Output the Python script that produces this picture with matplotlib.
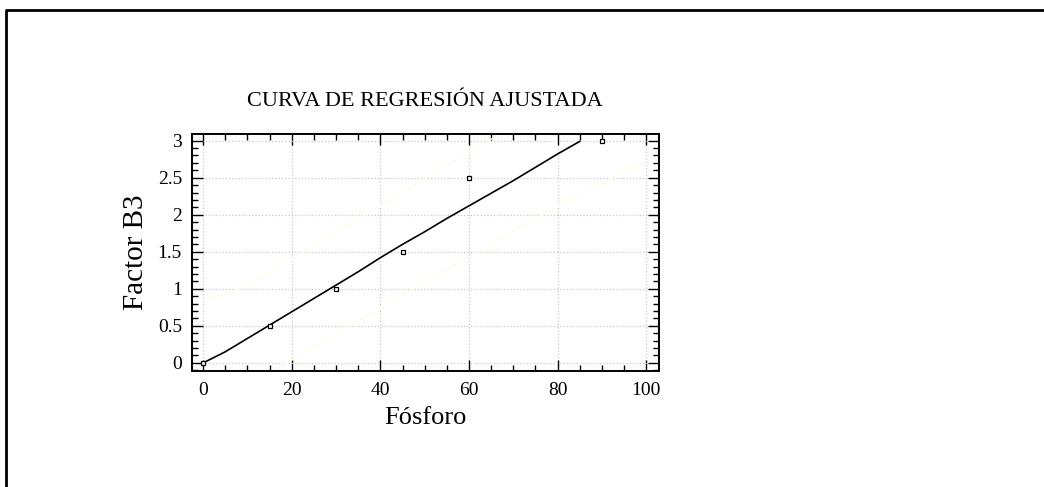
import numpy as np
import matplotlib
matplotlib.use("Agg")
import matplotlib.pyplot as plt
from matplotlib.lines import Line2D
from matplotlib.ticker import MultipleLocator

# observed points
fosforo = [0, 15, 30, 45, 60, 90]
factor_b3 = [0, 0.5, 1.0, 1.5, 2.5, 3.0]

# fitted curve
fit_x = [0, 5, 10, 15, 20, 25, 30, 35, 40, 45, 50, 55, 60, 65, 70, 75, 80, 85]
fit_y = [0, 0.15, 0.33, 0.51, 0.69, 0.87, 1.05, 1.23, 1.42, 1.60, 1.77, 1.95,
         2.12, 2.29, 2.46, 2.64, 2.82, 2.99]

# faint prediction limits
lim_x = [0, 10, 20, 30, 40, 50, 60, 70, 80, 90, 100]
upper_y = [0.85, 1.03, 1.40, 1.76, 2.12, 2.48, 2.84, 3.20, 3.55, 3.90, 4.25]
lower_y = [-0.75, -0.35, 0.04, 0.40, 0.74, 1.09, 1.43, 1.78, 2.12, 2.43, 2.72]

plt.rcParams["font.family"] = ["Liberation Serif", "DejaVu Serif"]

fig = plt.figure(figsize=(10.44, 4.87), dpi=100)
ax = fig.add_axes([0.1836, 0.2382, 0.4476, 0.4866])

ax.plot(lim_x, upper_y, color="#fefeec", lw=1)
ax.plot(lim_x, lower_y, color="#fefeec", lw=1)
ax.plot(fit_x, fit_y, color="black", lw=1.2)
ax.plot(fosforo, factor_b3, ls="none", marker="s", ms=3.2, mfc="white",
        mec="black", mew=0.9)

ax.set_xlim(-2.6, 102.9)
ax.set_ylim(-0.11, 3.09)
ax.xaxis.set_major_locator(MultipleLocator(20))
ax.xaxis.set_minor_locator(MultipleLocator(5))
ax.yaxis.set_major_locator(MultipleLocator(0.5))
ax.yaxis.set_minor_locator(MultipleLocator(0.1))
ax.set_yticks([0, 0.5, 1, 1.5, 2, 2.5, 3])
ax.set_yticklabels(["0", "0.5", "1", "1.5", "2", "2.5", "3"])

ax.tick_params(which="both", direction="in", top=True, right=True,
               labelsize=14, colors="black", width=1)
ax.tick_params(which="major", length=8)
ax.tick_params(which="minor", length=4)
ax.tick_params(axis="x", pad=8)
ax.tick_params(axis="y", pad=7)
ax.grid(True, which="major", color="#c8c8c8", ls=":", lw=0.9)
for s in ax.spines.values():
    s.set_linewidth(1.4)

ax.set_xlabel("Fósforo", fontsize=19, labelpad=6)
ax.set_ylabel("Factor B3", fontsize=21, labelpad=6)
ax.set_title("CURVA DE REGRESIÓN AJUSTADA", fontsize=16, pad=20)

# outer frame (top and left edges visible)
fig.add_artist(Line2D([6 / 1044, 6 / 1044, 1.0], [0.0, 1 - 10 / 487, 1 - 10 / 487],
                      transform=fig.transFigure, color="black", lw=2))

fig.savefig("out.png", dpi=100)
plt.close(fig)
